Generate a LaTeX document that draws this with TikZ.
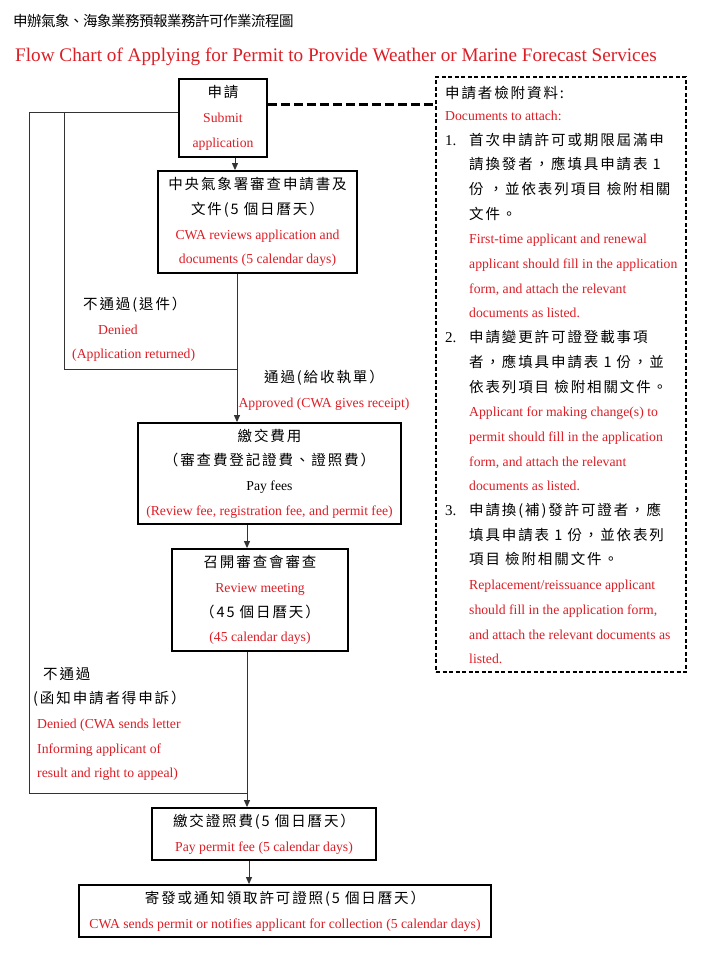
\documentclass[tikz,border=0pt]{standalone}
\usepackage{fontspec}
\setmainfont{Liberation Serif}
\newfontfamily\cjk[LetterSpace=13]{Noto Sans CJK TC}
\newfontfamily\cjktitle[LetterSpace=-3.5]{Noto Sans CJK TC}
\usetikzlibrary{arrows.meta}
\definecolor{cred}{RGB}{220,30,38}
\newcommand{\zh}[1]{{\cjk\fontsize{14.5}{24.7}\selectfont #1}}
\newcommand{\rd}[1]{{\color{cred}#1}}
\newcommand{\nbr}[1]{\makebox[24pt][l]{\fontsize{15}{24.7}\selectfont #1}}
\begin{document}
\begin{tikzpicture}[x=1pt,y=-1pt,
  box/.style={draw, line width=1.8pt, align=center, inner sep=0pt, font=\fontsize{13.7}{24.7}\selectfont},
  txt/.style={inner sep=0pt, font=\fontsize{13.7}{24.7}\selectfont},
  conn/.style={draw=black!80, line width=1pt},
  arr/.style={conn, -{Triangle[length=7pt,width=6pt]}},
  docbox/.style={draw, line width=1.8pt, dash pattern=on 4pt off 2.5pt, inner sep=0pt},
  dashconn/.style={draw, line width=3pt, dash pattern=on 9pt off 4pt}]
\useasboundingbox (0,0) rectangle (712,953);
\fill[white] (0,0) rectangle (712,953);

% titles
\node[inner sep=0pt, anchor=base west, font=\cjktitle\fontsize{14.5}{16}\selectfont] (title) at (13,26.5) {申辦氣象、海象業務預報業務許可作業流程圖};
\node[inner sep=0pt, anchor=base west, text=cred, font=\fontsize{19.2}{22}\selectfont] (etitle) at (15,61.5) {Flow Chart of Applying for Permit to Provide Weather or Marine Forecast Services};

% boxes
\node[box, minimum width=88pt, minimum height=78pt] (submit) at (223,118)
  {\zh{申請}\\ \rd{Submit}\\ \rd{application}};
\node[box, minimum width=199pt, minimum height=102pt] (review) at (257.5,222)
  {\zh{中央氣象署審查申請書及}\\ \zh{文件(5 個日曆天）}\\ \rd{CWA reviews application and}\\ \rd{documents (5 calendar days)}};
\node[box, minimum width=263pt, minimum height=101pt] (payfees) at (269.5,473.5)
  {\zh{繳交費用}\\ \zh{（審查費登記證費、證照費）}\\ Pay fees\\ \rd{(Review fee, registration fee, and permit fee)}};
\node[box, minimum width=176pt, minimum height=102pt] (meeting) at (260,600)
  {\zh{召開審查會審查}\\ \rd{Review meeting}\\ \zh{（45 個日曆天）}\\ \rd{(45 calendar days)}};
\node[box, minimum width=224pt, minimum height=52pt] (permitfee) at (264,834)
  {\zh{繳交證照費(5 個日曆天）}\\ \rd{Pay permit fee (5 calendar days)}};
\node[box, minimum width=412pt, minimum height=52pt] (send) at (285,911)
  {\zh{寄發或通知領取許可證照(5 個日曆天）}\\ \rd{CWA sends permit or notifies applicant for collection (5 calendar days)}};

% documents box
\node[docbox, minimum width=250pt, minimum height=595pt] (docs) at (561,374.5) {};
\node[txt, align=left, anchor=north west] (doclist) at (445,85.8) {%
\zh{申請者檢附資料:}\\[-2.7pt]
\rd{Documents to attach:}\\
\nbr{1.}\zh{首次申請許可或期限屆滿申}\\
\hspace*{24pt}\zh{請換發者，應填具申請表 1}\\
\hspace*{24pt}\zh{份 ，並依表列項目 檢附相關}\\
\hspace*{24pt}\zh{文件。}\\
\hspace*{24pt}\rd{First-time applicant and renewal}\\
\hspace*{24pt}\rd{applicant should fill in the application}\\
\hspace*{24pt}\rd{form, and attach the relevant}\\
\hspace*{24pt}\rd{documents as listed.}\\
\nbr{2.}\zh{申請變更許可證登載事項}\\
\hspace*{24pt}\zh{者，應填具申請表 1 份，並}\\
\hspace*{24pt}\zh{依表列項目 檢附相關文件。}\\
\hspace*{24pt}\rd{Applicant for making change(s) to}\\
\hspace*{24pt}\rd{permit should fill in the application}\\
\hspace*{24pt}\rd{form, and attach the relevant}\\
\hspace*{24pt}\rd{documents as listed.}\\
\nbr{3.}\zh{申請換(補)發許可證者，應}\\
\hspace*{24pt}\zh{填具申請表 1 份，並依表列}\\
\hspace*{24pt}\zh{項目 檢附相關文件。}\\
\hspace*{24pt}\rd{Replacement/reissuance applicant}\\
\hspace*{24pt}\rd{should fill in the application form,}\\
\hspace*{24pt}\rd{and attach the relevant documents as}\\
\hspace*{24pt}\rd{listed.}};

% labels
\node[txt, align=left, anchor=north west] (lab1) at (72,296.7)
  {\hspace*{11pt}\zh{不通過(退件）}\\ \hspace*{26pt}\rd{Denied}\\ \rd{(Application returned)}};
\node[txt, align=center, anchor=north] (lab2) at (324,369.7)
  {\zh{通過(給收執單）}\\ \rd{Approved (CWA gives receipt)}};
\node[txt, align=left, anchor=north west] (lab3) at (33,666.7)
  {\hspace*{10pt}\zh{不通過}\\ \zh{(函知申請者得申訴）}\\ \hspace*{4pt}\rd{Denied (CWA sends letter}\\ \hspace*{4pt}\rd{Informing applicant of}\\ \hspace*{4pt}\rd{result and right to appeal)}};

% connectors
\coordinate (xa) at (235,0);
\coordinate (xb) at (237,0);
\coordinate (xc) at (247,0);
\coordinate (xd) at (249,0);
\draw[arr] (submit.south -| xa) -- (review.north -| xa);
\draw[arr] (review.south -| xb) -- (payfees.north -| xb);
\draw[arr] (payfees.south -| xc) -- (meeting.north -| xc);
\draw[arr] (meeting.south -| xc) -- (permitfee.north -| xc);
\draw[arr] (permitfee.south -| xd) -- (send.north -| xd);

\coordinate (j1) at (237,369);
\coordinate (k1) at (64,112);
\coordinate (j2) at (247,793);
\coordinate (k2) at (29,112);
\draw[conn] (j1) -| (k1) -- (k1 -| submit.west);
\draw[conn] (j2) -| (k2) -- (k1);

\coordinate (dy) at (0,104);
\draw[dashconn] (submit.east |- dy) -- (docs.west |- dy);
\end{tikzpicture}
\end{document}
